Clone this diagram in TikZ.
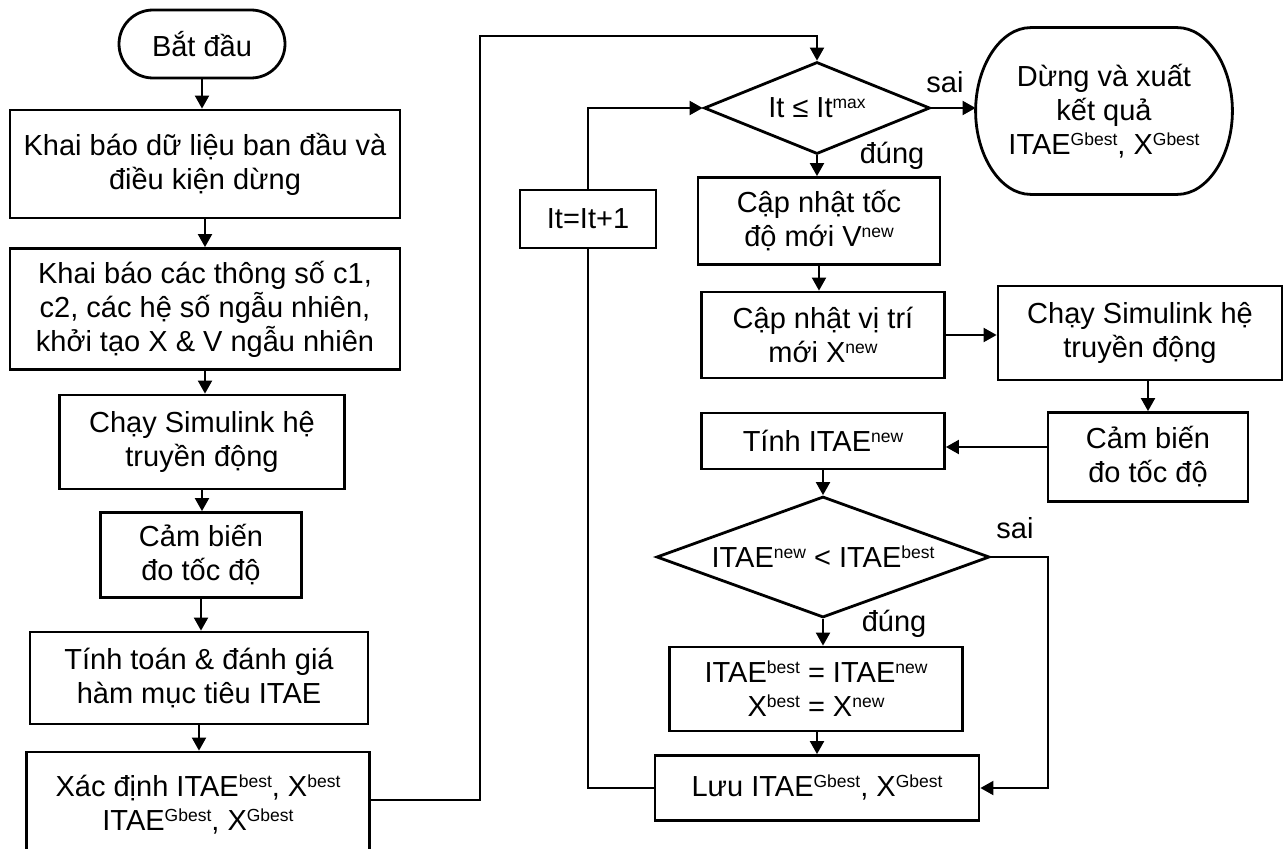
\documentclass[tikz,border=0pt]{standalone}
\usepackage{fontspec}
\setmainfont{Liberation Sans}
\usetikzlibrary{arrows.meta,shapes.geometric,shapes.misc}
\newcommand{\sps}[1]{\raisebox{9pt}{\fontsize{17.5}{18}\selectfont #1}}
\tikzset{
	box/.style = {draw, line width=2.8pt, rectangle, align=center, inner sep=2pt},
	term/.style = {box, rounded rectangle},
	dec/.style = {draw, line width=2.8pt, diamond, inner sep=0pt},
	lbl/.style = {inner sep=0pt}
}

\begin{document}
\begin{tikzpicture}[x=1pt, y=-1pt, ->, >={Triangle[length=13pt,width=14pt]}, line width=2pt, font=\fontsize{29}{34}\selectfont]
	\useasboundingbox (0,0) rectangle (1284,848);
	% left column
	\node[term, minimum width=170pt, minimum height=68pt] (start) at (202,44) {Bắt đầu};
	\node[box, minimum width=390pt, minimum height=108pt] (k1) at (205,164) {Khai báo dữ liệu ban đầu và\\điều kiện dừng};
	\node[box, minimum width=390pt, minimum height=121pt] (k2) at (205,309) {Khai báo các thông số c1,\\c2, các hệ số ngẫu nhiên,\\khởi tạo X \& V ngẫu nhiên};
	\node[box, minimum width=285pt, minimum height=94pt] (sim1) at (202,442) {Chạy Simulink hệ\\truyền động};
	\node[box, minimum width=201pt, minimum height=85pt] (cam1) at (201,555) {Cảm biến\\đo tốc độ};
	\node[box, minimum width=338pt, minimum height=92pt] (tinh1) at (199,678) {Tính toán \& đánh giá\\hàm mục tiêu ITAE};
	\node[box, minimum width=343pt, minimum height=106pt] (xac) at (198,805) {Xác định ITAE\sps{best}, X\sps{best}\\ITAE\sps{Gbest}, X\sps{Gbest}};
	% right column
	\node[dec, minimum width=226pt, minimum height=92pt] (d1) at (817,108) {\makebox[0pt]{It ≤ It\sps{max}}};
	\node[box, draw=none, minimum width=254pt, minimum height=164pt] (stop) at (1104,111) {Dừng và xuất\\kết quả\\ITAE\sps{Gbest}, X\sps{Gbest}};
	\draw[-, line width=2.8pt] ([xshift=55pt]stop.north west) -- ([xshift=-55pt]stop.north east)
		.. controls ([xshift=-25pt]stop.north east) and ([yshift=45pt]stop.east) .. (stop.east)
		.. controls ([yshift=-45pt]stop.east) and ([xshift=-25pt]stop.south east) .. ([xshift=-55pt]stop.south east)
		-- ([xshift=55pt]stop.south west)
		.. controls ([xshift=25pt]stop.south west) and ([yshift=-45pt]stop.west) .. (stop.west)
		.. controls ([yshift=45pt]stop.west) and ([xshift=25pt]stop.north west) .. ([xshift=55pt]stop.north west) -- cycle;
	\node[box, minimum width=136pt, minimum height=58pt] (it) at (588,219) {It=It+1};
	\node[box, minimum width=242pt, minimum height=87pt] (vnew) at (819,221) {Cập nhật tốc\\độ mới V\sps{new}};
	\node[box, minimum width=243pt, minimum height=86pt] (xnew) at (823,335) {Cập nhật vị trí\\mới X\sps{new}};
	\node[box, minimum width=284pt, minimum height=94pt] (sim2) at (1140,333) {Chạy Simulink hệ\\truyền động};
	\node[box, minimum width=200pt, minimum height=89pt] (cam2) at (1148,457) {Cảm biến\\đo tốc độ};
	\node[box, minimum width=243pt, minimum height=56pt] (tinh2) at (823,441) {Tính ITAE\sps{new}};
	\node[dec, minimum width=333pt, minimum height=121pt] (d2) at (823,557) {\makebox[0pt]{ITAE\sps{new} < ITAE\sps{best}}};
	\node[box, minimum width=293pt, minimum height=84pt] (upd) at (816,689) {ITAE\sps{best} = ITAE\sps{new}\\X\sps{best} = X\sps{new}};
	\node[box, minimum width=324pt, minimum height=65pt] (luu) at (817,788) {Lưu ITAE\sps{Gbest}, X\sps{Gbest}};
	% labels
	\node[lbl] (sai1) at (945,82) {sai};
	\node[lbl] (dung1) at (892,156) {đúng};
	\node[lbl] (sai2) at (1015,528) {sai};
	\node[lbl] (dung2) at (894,624) {đúng};

	\draw (start.south) -- (start.south |- k1.north);
	\draw (k1.south) -- (k1.south |- k2.north);
	\draw (k2.south) -- (k2.south |- sim1.north);
	\draw (sim1.south) -- (sim1.south |- cam1.north);
	\draw (cam1.south) -- (cam1.south |- tinh1.north);
	\draw (tinh1.south) -- (tinh1.south |- xac.north);
	\draw ([yshift=5pt]xac.east) -| (480,36) -| (d1.north);
	\draw (d1.east) -- (d1.east -| stop.west);
	\draw (d1.south) -- (d1.south |- vnew.north);
	\draw (vnew.south) -- (vnew.south |- xnew.north);
	\draw (xnew.east) -- (xnew.east -| sim2.west);
	\draw (sim2.south -| cam2.north) -- (cam2.north);
	\draw (cam2.west |- 0,447) -- (tinh2.east |- 0,447);
	\draw (tinh2.south) -- (tinh2.south |- d2.north);
	\draw (d2.east) -- ++(57,0) |- (luu.east);
	\draw (d2.south) -- (d2.south |- upd.north);
	\draw (upd.south -| luu.north) -- (luu.north);
	\draw[-] (luu.west) -| (it.south);
	\draw (it.north) |- (d1.west);
\end{tikzpicture}
\end{document}
